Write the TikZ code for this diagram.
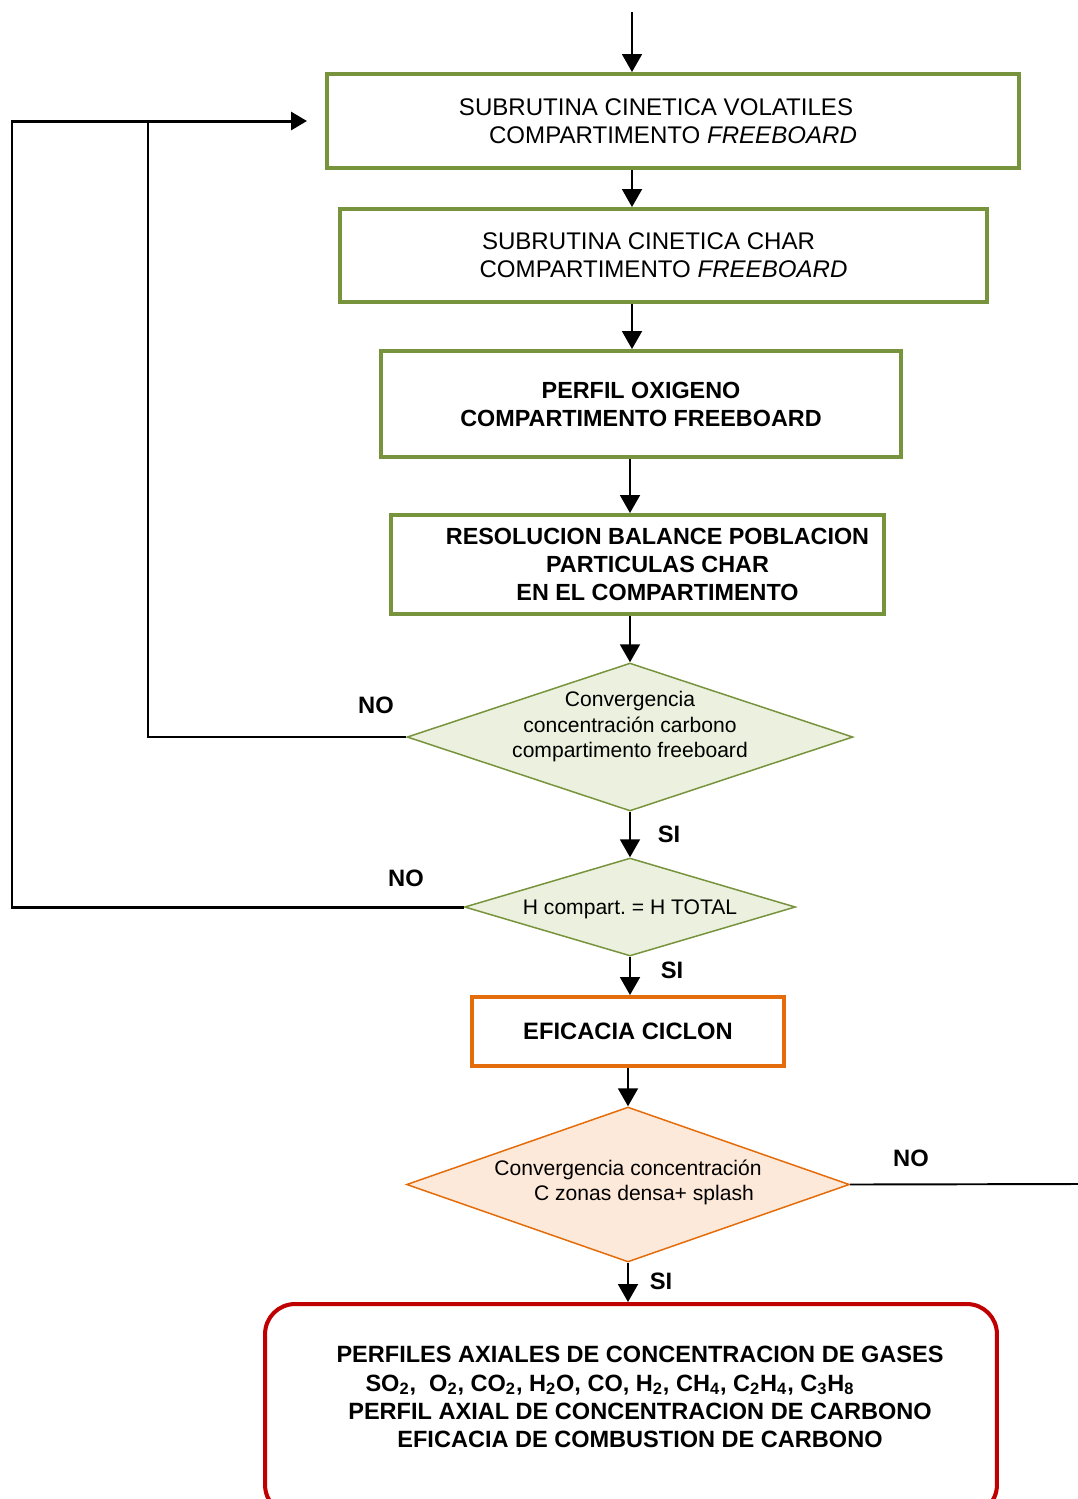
\documentclass[tikz,border=0pt]{standalone}
\usepackage{fontspec}
\setmainfont{Liberation Sans}
\usetikzlibrary{shapes.geometric, arrows.meta}

\definecolor{olivegreen}{HTML}{77933C}
\definecolor{palegreen}{HTML}{EBF1DE}
\definecolor{darkorange}{HTML}{E46C0A}
\definecolor{paleorange}{HTML}{FDE9D9}
\definecolor{deepred}{HTML}{C00000}

\begin{document}
\begin{tikzpicture}[x=0.02cm, y=-0.02cm, >={Triangle[length=0.36cm,width=0.4cm]},
    greenbox/.style={draw=olivegreen, line width=2.3pt, align=center, inner sep=0pt,
      font=\fontsize{13.7}{15.9}\selectfont},
    orangebox/.style={draw=darkorange, line width=2.3pt, align=center, inner sep=0pt,
      font=\bfseries\fontsize{13.5}{15.9}\selectfont},
    endbox/.style={draw=deepred, line width=2.3pt, rounded corners=0.6cm, align=center,
      inner sep=0pt, font=\bfseries\fontsize{13.4}{16.2}\selectfont},
    greendec/.style={diamond, draw=olivegreen, fill=palegreen, line width=0.85pt, inner sep=0pt},
    orangedec/.style={diamond, draw=darkorange, fill=paleorange, line width=0.85pt, inner sep=0pt},
    dectext/.style={align=center, inner sep=0pt, font=\fontsize{12}{14.5}\selectfont},
    answer/.style={font=\bfseries\fontsize{13.5}{16}\selectfont},
    arrow/.style={->, line width=1.1pt},
    backline/.style={line width=1.7pt}]
  \clip (0,0) rectangle (1078,1499);

  \coordinate (start) at (632,12);
  \coordinate (j0) at (12,121);
  \coordinate (j1) at (148,121);
  \coordinate (fb) at (307,121);
  \coordinate (out) at (1078,1184);

  % process boxes
  \node[greenbox, minimum width=13.84cm, minimum height=1.88cm] (volat) at (673,121)
    {\mbox{SUBRUTINA CINETICA VOLATILES\hspace{0.68cm}}\\COMPARTIMENTO \textit{FREEBOARD}};
  \node[greenbox, minimum width=12.94cm, minimum height=1.86cm] (char) at (663.5,255.5)
    {\mbox{SUBRUTINA CINETICA CHAR\hspace{0.6cm}}\\COMPARTIMENTO \textit{FREEBOARD}};
  \node[greenbox, font=\bfseries\fontsize{13.3}{15.9}\selectfont,
    minimum width=10.4cm, minimum height=2.12cm] (oxig) at (641,404)
    {PERFIL OXIGENO\\COMPARTIMENTO FREEBOARD};
  \node[greenbox, font=\bfseries\fontsize{13.3}{15.9}\selectfont,
    minimum width=9.86cm, minimum height=1.98cm] (pobl) at (637.5,564.5)
    {\mbox{\hspace{0.8cm}RESOLUCION BALANCE POBLACION}\\\mbox{\hspace{0.8cm}PARTICULAS CHAR}\\
     \mbox{\hspace{0.8cm}EN EL COMPARTIMENTO}};

  % decisions
  \node[greendec, minimum width=8.92cm, minimum height=2.96cm] (conv) at (630,737) {};
  \node[dectext] (convtxt) at ([yshift=0.2cm]conv.center)
    {Convergencia\\concentración carbono\\compartimento freeboard};
  \node[greendec, minimum width=6.62cm, minimum height=1.96cm] (alt) at (630,907) {};
  \node[dectext] (alttxt) at ([yshift=-0.04cm]alt.center) {H compart.\ = H TOTAL};

  \node[orangebox, minimum width=6.26cm, minimum height=1.38cm] (ciclon) at (628,1031.5)
    {EFICACIA CICLON};

  \node[orangedec, minimum width=8.86cm, minimum height=3.1cm] (zonas) at (628,1184.5) {};
  \node[dectext] (zonastxt) at ([yshift=0.04cm]zonas.center)
    {Convergencia concentración\\\mbox{\hspace{0.64cm}C zonas densa+ splash}};

  \node[endbox, minimum width=14.64cm, minimum height=4.22cm] (perfiles) at (631,1409.5)
    {\mbox{\hspace{0.36cm}PERFILES AXIALES DE CONCENTRACION DE GASES}\\
     \mbox{SO\textsubscript{2},\ \ O\textsubscript{2}, CO\textsubscript{2}, H\textsubscript{2}O, CO,
       H\textsubscript{2}, CH\textsubscript{4}, C\textsubscript{2}H\textsubscript{4},
       C\textsubscript{3}H\textsubscript{8}\hspace{0.84cm}}\\
     \mbox{\hspace{0.36cm}PERFIL AXIAL DE CONCENTRACION DE CARBONO}\\
     \mbox{\hspace{0.36cm}EFICACIA DE COMBUSTION DE CARBONO}\\[-2pt]\mbox{}};

  % main flow
  \draw[arrow] (start) -- (start |- volat.north);
  \draw[arrow] (volat.south -| start) -- (char.north -| start);
  \draw[arrow] (char.south -| start) -- (oxig.north -| start);
  \draw[arrow] (oxig.south -| conv) -- (pobl.north -| conv);
  \draw[arrow] (pobl.south -| conv) -- (conv.north);
  \draw[arrow] (conv.south) -- (alt.north);
  \draw[arrow] (alt.south) -- (ciclon.north -| alt);
  \draw[arrow] (ciclon.south -| zonas) -- (zonas.north);
  \draw[arrow] (zonas.south) -- (perfiles.north -| zonas);

  % loops back
  \draw[line width=1.1pt] (conv.west) -| (j1);
  \draw[backline, ->, >={Triangle[length=0.32cm,width=0.36cm]}] (alt.west) -| (j0) -- (fb);
  \draw[line width=1.1pt] (zonas.east) -- (out);

  \node[answer] (no1) at (376,705) {NO};
  \node[answer] (si1) at (669,834) {SI};
  \node[answer] (no2) at (406,878) {NO};
  \node[answer] (si2) at (672,970) {SI};
  \node[answer] (no3) at (911,1158) {NO};
  \node[answer] (si3) at (661,1281) {SI};
\end{tikzpicture}
\end{document}
